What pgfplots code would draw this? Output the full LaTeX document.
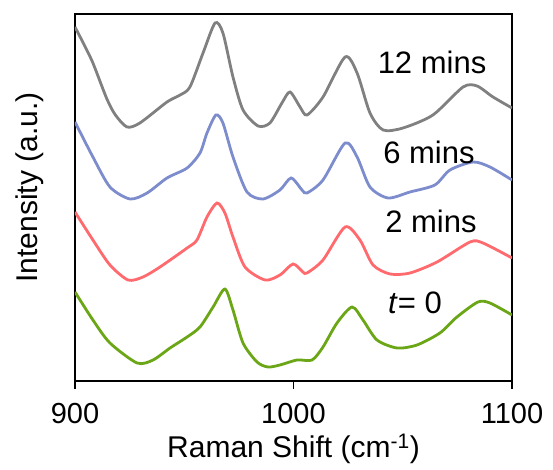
\documentclass[border=0pt]{standalone}
\usepackage{pgfplots}
\pgfplotsset{compat=1.18}
\usepackage{fontspec}
\setmainfont{Liberation Sans}

\definecolor{c12}{RGB}{128,128,128}
\definecolor{c6}{RGB}{124,140,204}
\definecolor{c2}{RGB}{255,106,110}
\definecolor{c0}{RGB}{106,166,22}

\begin{document}
\begin{tikzpicture}
\begin{axis}[
  scale only axis,
  width=437pt, height=367pt,
  xmin=900, xmax=1100, ymin=0, ymax=367,
  xtick={900,1000,1100},
  ytick=\empty,
  xtick pos=bottom,
  xtick align=outside,
  major tick length=8pt,
  axis line style={line width=1.6pt},
  every tick/.style={line width=1.6pt, black},
  /pgf/number format/assume math mode=true,
  /pgf/number format/1000 sep={},
  tick label style={font=\fontsize{29}{32}\selectfont},
  xticklabel style={anchor=center, yshift=-25pt},
  xlabel={Raman Shift (cm\textsuperscript{-1})},
  ylabel={Intensity (a.u.)},
  label style={font=\fontsize{30}{33}\selectfont},
  xlabel style={at={(axis description cs:0.5,-0.186)}, anchor=center},
  ylabel style={at={(axis description cs:-0.103,0.527)}, anchor=center},
  every axis plot/.append style={line width=2.8pt, smooth, tension=0.45, no markers},
]
% 12 mins
\addplot[c12] coordinates {
(900.0,354) (904.0,337) (908.2,318) (914.6,282) (918.5,266) (923.8,254) (929.7,258) (942.1,279)
(948.1,286) (952.6,294) (958.6,328) (964.1,358) (967.7,348) (972.3,304)
(976.9,271) (983.8,255) (989.2,258) (994.7,278) (998.4,289) (1003.0,274)
(1006.2,266) (1013.5,284) (1023.6,324) (1029.1,308) (1035.0,268) (1041.0,251)
(1050.1,253) (1063.8,266) (1077.6,294) (1084.0,295) (1091.3,284) (1100,273)};
% 6 mins
\addplot[c6] coordinates {
(900,259) (908.2,224) (916.0,194) (925.2,182) (933.0,188) (942.1,203)
(951.3,213) (957.2,228) (960.4,248) (964.5,266) (967.7,258) (972.3,224)
(978.7,189) (986.0,182) (993.8,191) (998.9,203) (1003.9,191) (1006.2,188)
(1013.5,201) (1023.6,238) (1029.1,224) (1035.0,194) (1043.3,183) (1053.3,189)
(1064.7,196) (1071.6,211) (1082.2,219) (1089.9,214) (1100,201)};
% 2 mins
\addplot[c2] coordinates {
(900,169) (908.2,141) (916.0,116) (924.3,101) (931.1,104) (938.9,114)
(951.3,133) (955.8,141) (960.4,164) (965.0,178) (968.6,168) (972.3,144)
(977.8,114) (987.0,101) (993.8,106) (999.8,117) (1004.3,109) (1006.2,108)
(1013.5,121) (1023.6,154) (1030.4,141) (1036.4,116) (1044.2,107) (1053.3,108)
(1065.7,119) (1080.8,139) (1086.7,138) (1100,123)};
% t = 0
\addplot[c0] coordinates {
(900,89) (908.2,61) (916.0,38) (928.4,18) (935.7,21) (943.5,33)
(951.3,44) (957.2,54) (963.2,74) (968.6,92) (972.3,71) (976.9,38)
(983.3,19) (988.3,14) (993.8,16) (1001.6,21) (1008.5,21) (1013.5,34)
(1019.9,58) (1026.8,74) (1031.8,61) (1038.2,41) (1047.4,33) (1056.5,36)
(1067.0,48) (1074.8,64) (1084.4,79) (1089.9,78) (1100,66)};

\node[font=\fontsize{31}{34}\selectfont] at (axis cs:1063.4,319) {12 mins};
\node[font=\fontsize{31}{34}\selectfont] at (axis cs:1062.0,229) {6 mins};
\node[font=\fontsize{31}{34}\selectfont] at (axis cs:1062.9,160) {2 mins};
\node[font=\fontsize{31}{34}\selectfont] at (axis cs:1055.6,78) {\textit{t}= 0};
\end{axis}
\pgfresetboundingbox
\path ([shift={(-75pt,-89pt)}]current axis.south west)
  rectangle ([shift={(41pt,14pt)}]current axis.north east);
\end{tikzpicture}
\end{document}
